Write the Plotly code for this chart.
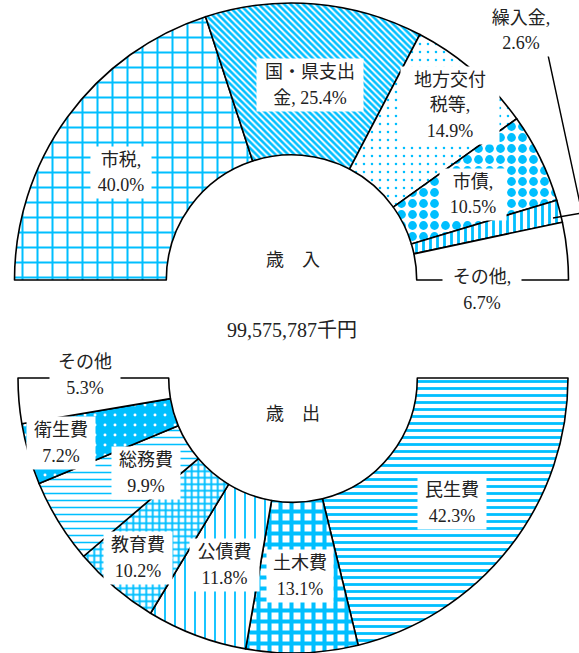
import plotly.graph_objects as go

W, H = 579, 653

# 歳入 (revenue) shares, %
rev_items = ["市税", "国・県支出金", "地方交付税等", "市債", "繰入金", "その他"]
rev_share = [40.0, 25.4, 14.9, 10.5, 2.6, 6.7]

# 歳出 (expenditure) shares, %
exp_items = ["民生費", "土木費", "公債費", "教育費", "総務費", "衛生費", "その他"]
exp_share = [42.3, 13.1, 11.8, 10.2, 9.9, 7.2, 5.3]

total_text = "99,575,787千円"

# label line layout ("{p}" is replaced by the formatted share)
rev_fmt = ["市税,\n{p}", "国・県支出\n金, {p}", "地方交付\n税等,\n{p}",
           "市債,\n{p}", "繰入金,\n{p}", "その他,\n{p}"]
exp_fmt = ["{n}\n{p}"] * len(exp_items)

# label placement in pixels: centre x, first-line y, box width
rev_lab = [(121, 160, 54), (310, 72, 100), (450, 80, 92),
           (473, 182, 60), (521, 18, 62), (482, 277, 72)]
exp_lab = [(452, 490, 62), (300, 563, 60), (224, 552, 63), (138, 545, 62),
           (146, 460, 62), (61, 430, 62), (85, 362, 64)]
LINE_GAP = 25.5

CYAN = "#00BFFF"
WHITE = "#FFFFFF"
CLEAR = "rgba(0,0,0,0)"

# slice fills: (pattern shape, tile size, solidity, foreground, background)
rev_fill = [
    ("+", 15, 0.25, CYAN, WHITE),
    ("\\", 4.5, 0.58, CYAN, WHITE),
    (".", 8, 0.08, CYAN, WHITE),
    (".", 11, 0.5, CYAN, WHITE),
    ("|", 7, 0.4, CYAN, WHITE),
    ("", 8, 0.3, CYAN, WHITE),
]
exp_fill = [
    ("-", 7, 0.4, CYAN, WHITE),
    ("+", 11, 0.6, CYAN, WHITE),
    ("|", 10, 0.18, CYAN, WHITE),
    ("+", 6.5, 0.5, CYAN, WHITE),
    ("-", 7, 0.22, CYAN, WHITE),
    (".", 10, 0.07, WHITE, CYAN),
    ("", 8, 0.3, CYAN, WHITE),
]


def half_donut(items, share, fill, rotation, domain_px):
    """Half ring: the visible slices plus a transparent balancing slice."""
    spare = round(sum(share), 3)
    labels = items + ["_"]
    values = share + [spare]
    colors = [f[4] for f in fill] + [CLEAR]
    pattern = dict(
        shape=[f[0] for f in fill] + [""],
        size=[f[1] for f in fill] + [8],
        solidity=[f[2] for f in fill] + [0.3],
        fgcolor=[f[3] for f in fill] + [CLEAR],
        bgcolor=[f[4] for f in fill] + [CLEAR],
    )
    x0, y0, x1, y1 = domain_px
    return go.Pie(
        labels=labels, values=values, sort=False, direction="clockwise",
        rotation=rotation, hole=0.452, textinfo="none", hoverinfo="skip",
        showlegend=False,
        marker=dict(colors=colors, pattern=pattern,
                    line=dict(color="#000000",
                              width=[1.6] * len(items) + [0])),
        domain=dict(x=[x0 / W, x1 / W], y=[1 - y1 / H, 1 - y0 / H]),
    )


fig = go.Figure()
# upper half ring: centre (291.5, 280), radius 277
fig.add_trace(half_donut(rev_items, rev_share, rev_fill, -90,
                         (14.5, 3, 568.5, 557)))
# lower half ring: centre (293, 378), radius 275
fig.add_trace(half_donut(exp_items, exp_share, exp_fill, 90,
                         (18, 103, 568, 653)))

FONT = "Liberation Serif, Noto Sans CJK JP, serif"
annotations = []


def add_text(text, x, y, size=18, bg=None, width=None):
    a = dict(text=text, x=x / W, y=1 - y / H, xref="paper", yref="paper",
             xanchor="center", yanchor="middle", showarrow=False,
             font=dict(family=FONT, size=size, color="#222222"))
    if bg:
        a.update(bgcolor=bg, borderpad=3)
    if width:
        a["width"] = width
    annotations.append(a)


def add_labels(items, share, fmts, places):
    for name, v, fmt, (cx, cy, bw) in zip(items, share, fmts, places):
        lines = fmt.format(n=name, p=f"{v:.1f}%").split("\n")
        for i, line in enumerate(lines):
            add_text(line, cx, cy + i * LINE_GAP, bg=WHITE, width=bw)


add_labels(rev_items, rev_share, rev_fmt, rev_lab)
add_labels(exp_items, exp_share, exp_fmt, exp_lab)

add_text("歳　入", 293, 260)
add_text(total_text, 292, 330, size=20)
add_text("歳　出", 293, 414)


def px(x, y):
    return f"{x / W:.5f},{1 - y / H:.5f}"


# leader line from 繰入金 label to its slice
leader = f"M{px(548, 55)} L{px(582, 213)} L{px(553, 218)}"

fig.update_layout(
    width=W, height=H, autosize=False,
    margin=dict(l=0, r=0, t=0, b=0),
    paper_bgcolor="white", plot_bgcolor="white",
    annotations=annotations,
    shapes=[dict(type="path", path=leader, xref="paper", yref="paper",
                 line=dict(color="#000000", width=1.4))],
)

fig.write_html("out.html")
